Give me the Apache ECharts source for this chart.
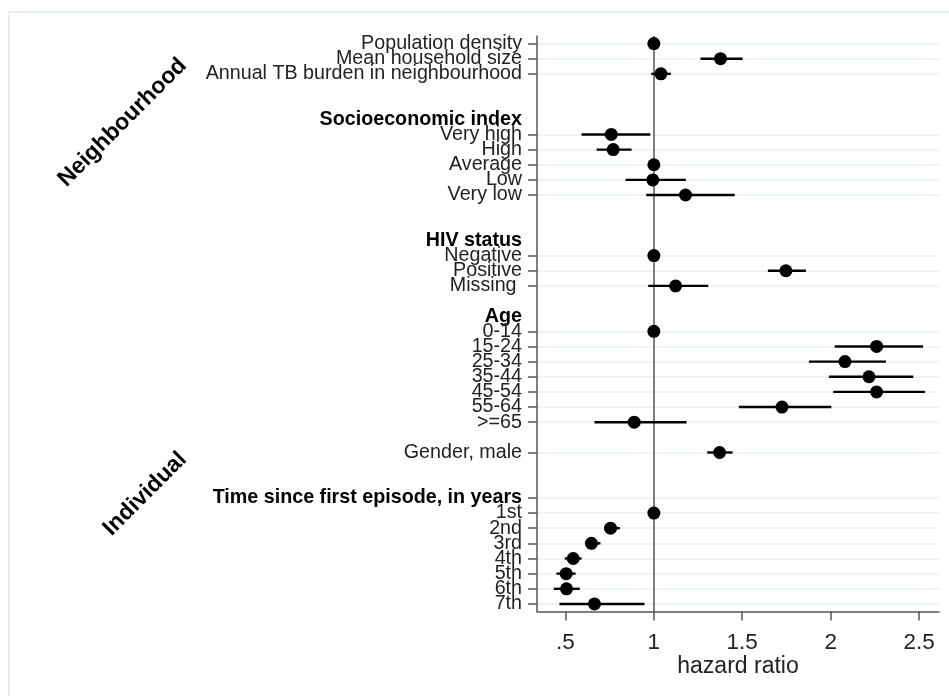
<!DOCTYPE html>
<html>
<head>
<meta charset="utf-8">
<script src="https://cdn.jsdelivr.net/npm/echarts@6/dist/echarts.min.js"></script>
<style>
html,body{margin:0;padding:0;background:#fff;}
#chart{width:949px;height:696px;}
</style>
</head>
<body>
<div id="chart"></div>
<script>
// Row labels (top to bottom); '' = empty spacer row
const rowLabels = [
  'Population density','Mean household size','Annual TB burden in neighbourhood','','',
  'Socioeconomic index','Very high','High','Average','Low','Very low','','',
  'HIV status','Negative','Positive','Missing ','',
  'Age','0-14','15-24','25-34','35-44','45-54','55-64','>=65','',
  'Gender, male','','',
  'Time since first episode, in years','1st','2nd','3rd','4th','5th','6th','7th'
];
// Bold group headers
const headerLabels = ['Socioeconomic index','HIV status','Age','Time since first episode, in years'];
// Headers that still carry a tick / grid line
const tickedHeaders = ['Time since first episode, in years'];
// Hazard ratio estimates (null = no estimate on that row)
const hazardRatio = [
  1.00, 1.377, 1.04, null, null,
  null, 0.759, 0.770, 1.00, 0.994, 1.179, null, null,
  null, 1.00, 1.747, 1.123, null,
  null, 1.00, 2.26, 2.081, 2.217, 2.26, 1.725, 0.889, null,
  1.372, null, null,
  null, 1.00, 0.755, 0.647, 0.544, 0.504, 0.506, 0.664
];
// Lower 95% CI
const ciLower = [
  0.99, 1.264, 0.985, null, null,
  null, 0.591, 0.676, null, 0.84, 0.957, null, null,
  null, null, 1.645, 0.968, null,
  null, null, 2.023, 1.877, 1.99, 2.015, 1.481, 0.664, null,
  1.302, null, null,
  null, null, 0.721, 0.613, 0.496, 0.449, 0.434, 0.466
];
// Upper 95% CI
const ciUpper = [
  1.01, 1.502, 1.096, null, null,
  null, 0.98, 0.874, null, 1.181, 1.457, null, null,
  null, null, 1.86, 1.308, null,
  null, null, 2.523, 2.313, 2.468, 2.534, 2.004, 1.185, null,
  1.445, null, null,
  null, null, 0.808, 0.698, 0.591, 0.557, 0.581, 0.947
];
// X axis ticks
const xTicks = [0.5, 1, 1.5, 2, 2.5];
const xTickLabels = ['.5', '1', '1.5', '2', '2.5'];
const groupLabels = ['Neighbourhood', 'Individual'];

const FONT = "'Liberation Sans', Arial, sans-serif";

const rowIdx = rowLabels.map((_, i) => i);
const tickRows = rowIdx.filter(i => hazardRatio[i] != null || tickedHeaders.includes(rowLabels[i]));
const pointData = rowIdx.filter(i => hazardRatio[i] != null).map(i => [hazardRatio[i], i]);
const ciData = rowIdx.filter(i => ciLower[i] != null).map(i => [ciLower[i], ciUpper[i], i]);

const chart = echarts.init(document.getElementById('chart'), null, {renderer: 'canvas'});
chart.setOption({
  animation: false,
  backgroundColor: '#fff',
  grid: {left: 537, right: 10, top: 36, bottom: 84.5, containLabel: false},
  xAxis: {
    type: 'value', min: 0.339, max: 2.613,
    axisLine: {show: true, onZero: false, lineStyle: {color: '#555', width: 1.5}},
    axisTick: {show: true, customValues: xTicks, length: 9, lineStyle: {color: '#555', width: 1.5}},
    axisLabel: {
      customValues: xTicks, margin: 20, showMinLabel: true, showMaxLabel: true,
      formatter: v => xTickLabels[xTicks.indexOf(v)],
      fontFamily: FONT, fontSize: 22.5, color: '#222'
    },
    splitLine: {show: false},
    name: 'hazard ratio', nameLocation: 'middle', nameGap: 44, nameMoveOverlap: false,
    nameTextStyle: {fontFamily: FONT, fontSize: 23, color: '#222'}
  },
  yAxis: [
    {
      // label axis: one category per row
      type: 'category', position: 'left', inverse: true, boundaryGap: true,
      data: rowIdx.map(String),
      axisLine: {show: false}, axisTick: {show: false}, splitLine: {show: false},
      axisLabel: {
        interval: 0, margin: 15, hideOverlap: false,
        formatter: (v, i) => {
          const s = rowLabels[+v] || '';
          return headerLabels.includes(s) ? '{b|' + s + '}' : s;
        },
        fontFamily: FONT, fontSize: 19.7, color: '#222',
        rich: {b: {fontFamily: FONT, fontSize: 19.7, fontWeight: 'bold', color: '#000'}}
      }
    },
    {
      // drawing axis: ticks, grid lines and mark positions
      type: 'value', position: 'left', inverse: true, min: -0.5, max: rowLabels.length - 0.5,
      axisLine: {show: true, onZero: false, lineStyle: {color: '#555', width: 1.5}},
      axisTick: {show: true, customValues: tickRows, length: 9, lineStyle: {color: '#555', width: 1.5}},
      axisLabel: {show: false},
      splitLine: {show: true, lineStyle: {color: '#e9f0f2', width: 1.5}}
    }
  ],
  graphic: [
    {type: 'rect', shape: {x: 9, y: 12, width: 1000, height: 1000}, style: {fill: 'none', stroke: '#e8eeef', lineWidth: 2}, z: -10},
    {type: 'text', x: 122.5, y: 122.5, rotation: Math.PI / 4,
     style: {text: groupLabels[0], fontFamily: FONT, fontSize: 23, fontWeight: 'bold', fill: '#000', align: 'center', verticalAlign: 'middle'}},
    {type: 'text', x: 145, y: 494, rotation: Math.PI / 4,
     style: {text: groupLabels[1], fontFamily: FONT, fontSize: 23, fontWeight: 'bold', fill: '#000', align: 'center', verticalAlign: 'middle'}}
  ],
  series: [
    {
      type: 'custom', z: 3, yAxisIndex: 1,
      data: ciData,
      encode: {x: [0, 1], y: 2},
      renderItem: (params, api) => {
        const a = api.coord([api.value(0), api.value(2)]);
        const b = api.coord([api.value(1), api.value(2)]);
        return {type: 'line', shape: {x1: a[0], y1: a[1], x2: b[0], y2: b[1]}, style: {stroke: '#000', lineWidth: 2.4}};
      }
    },
    {
      type: 'scatter', z: 4, yAxisIndex: 1,
      data: pointData,
      symbol: 'circle', symbolSize: 13,
      itemStyle: {color: '#000', opacity: 1},
      markLine: {
        silent: true, symbol: 'none', z: 2,
        label: {show: false},
        lineStyle: {color: '#555', width: 1.5, type: 'solid'},
        data: [{xAxis: 1}]
      }
    }
  ]
});
</script>
</body>
</html>
